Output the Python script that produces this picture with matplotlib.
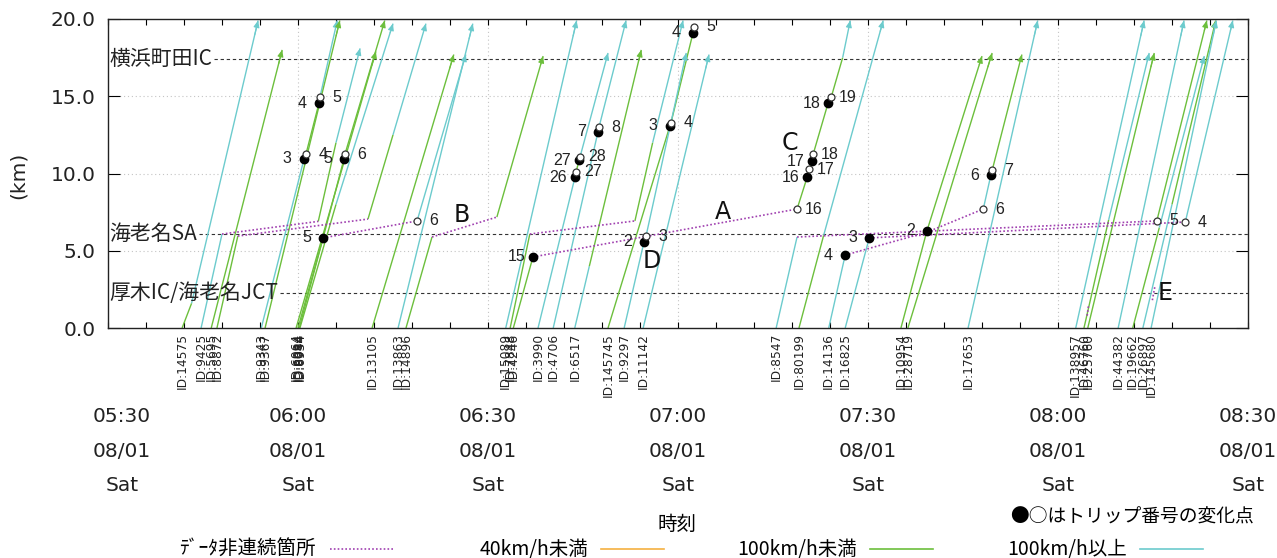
import matplotlib
matplotlib.use('Agg')
import matplotlib.pyplot as plt
from matplotlib import transforms
from matplotlib.lines import Line2D

plt.rcParams['font.family'] = ['DejaVu Sans', 'Noto Sans CJK JP']

# 時刻: 08/01 05:30 からの経過分, 位置: km
piece_id = ['ID:14575', 'ID:9425', '', 'ID:5695', 'ID:8872', '', 'ID:9343', 'ID:9367',
            'ID:6064', 'ID:6884', '', 'ID:8044', 'ID:6934', 'ID:13105', 'ID:13863',
            'ID:14896', '', 'ID:15089', 'ID:7848', '', 'ID:4246', '', 'ID:3990',
            'ID:4706', 'ID:6517', 'ID:145745', 'ID:9297', 'ID:11142', 'ID:8547', '',
            'ID:80199', 'ID:14136', '', 'ID:16825', '', 'ID:10954', 'ID:28719',
            'ID:17653', 'ID:138957', 'ID:46760', 'ID:25760', 'ID:44382', 'ID:19662',
            'ID:26897', 'ID:145680']
piece_t = [[11.7, 13.2, 23.7], [14.7, 18.0], [33.2, 36.0, 39.8], [16.3, 27.5],
           [17.2, 20.5], [41.05, 45.0, 50.2],
           [24.2, 30.95, 31.26, 33.32, 33.47, 36.2], [24.8, 36.6], [29.7, 42.3],
           [30.0, 33.95], [48.8, 56.5], [30.2, 37.26, 37.42, 43.7],
           [30.3, 36.0, 45.0], [41.7, 54.6], [45.8, 57.6], [47.05, 51.16],
           [61.4, 68.7], [62.8, 74.0], [63.5, 66.6], [83.2, 86.0, 90.8], [64.0, 67.1],
           [108.8, 110.4, 110.7, 111.2, 111.35, 113.7, 114.2, 116.0, 117.2],
           [67.9, 73.74, 73.9, 74.4, 74.55, 78.95], [70.3, 77.37, 77.53, 81.8],
           [73.7, 76.0, 84.2], [78.95, 88.74, 88.9, 92.37, 92.53],
           [81.5, 84.63, 84.95, 91.3], [84.5, 94.9], [105.5, 108.8], [165.6, 173.5],
           [109.1, 113.0, 122.4], [113.8, 116.4], [138.2, 139.4, 139.6, 144.3],
           [116.4, 120.2], [170.1, 177.6], [125.2, 129.3, 138.0], [126.3, 139.6],
           [135.8, 146.8], [152.8, 163.6], [154.1, 158.0, 164.4], [154.7, 165.2],
           [159.5, 169.9], [161.8, 166.0, 173.1], [163.4, 168.0, 174.9], [164.7, 175.0]]
piece_km = [[0, 1.6, 19.9], [0, 6.08], [6.9, 12.0, 18.1], [0, 18.0], [0, 5.95],
            [7.05, 12.5, 19.7], [0, 10.94, 11.26, 14.56, 14.95, 19.9], [0, 19.9],
            [0, 17.9], [0, 5.83], [6.93, 17.7], [0, 10.94, 11.26, 19.9],
            [0, 8.0, 19.7], [0, 17.7], [0, 19.7], [0, 5.89], [7.18, 17.6], [0, 19.9],
            [0, 6.08], [6.93, 12.0, 19.9], [0, 4.6],
            [7.7, 9.77, 10.29, 10.8, 11.26, 14.56, 14.95, 17.5, 19.9],
            [0, 9.77, 10.1, 10.87, 11.1, 17.8], [0, 12.7, 13.0, 19.9], [0, 4.0, 18.0],
            [0, 13.1, 13.3, 19.1, 19.5], [0, 5.57, 5.95, 17.8], [0, 17.7], [0, 5.89],
            [6.93, 19.9], [0, 6.0, 19.9], [0, 4.72], [7.7, 9.9, 10.2, 17.7], [0, 5.83],
            [6.86, 19.9], [0, 6.28, 17.6], [0, 17.8], [0, 19.9], [0, 19.9],
            [0, 7.0, 17.8], [0, 17.8], [0, 19.9], [0, 6.5, 17.6], [0, 8.0, 19.9],
            [0, 19.9]]
piece_col = ['gc', 'c', 'gc', 'g', 'g', 'gc', 'ccgcc', 'g', 'g', 'g', 'c', 'ggg', 'gc',
             'g', 'c', 'g', 'g', 'c', 'g', 'gc', 'g', 'gggggggc', 'cgggc', 'cgc', 'cg',
             'gggc', 'ccc', 'c', 'c', 'g', 'gc', 'c', 'cgg', 'c', 'c', 'gg', 'g', 'c',
             'c', 'gc', 'g', 'c', 'gc', 'cg', 'c']
piece_arrow = [1, 0, 1, 1, 0, 1, 1, 1, 1, 0, 1, 1, 1, 1, 1, 0, 1, 1, 0, 1, 0, 1, 1, 1, 1,
               0, 1, 1, 0, 1, 1, 0, 1, 0, 1, 1, 1, 1, 1, 1, 1, 1, 1, 1, 1]

gap_t = [[18.0, 33.2], [20.5, 41.05], [33.95, 48.8], [51.16, 61.4], [66.6, 83.2],
         [67.1, 108.8], [108.8, 165.6], [116.4, 129.3, 138.2], [120.2, 170.1],
         [164.9, 165.3], [154.6, 154.8]]
gap_km = [[6.08, 6.9], [5.95, 7.05], [5.83, 6.93], [5.89, 7.18], [6.08, 6.93],
          [4.6, 7.7], [5.89, 6.93], [4.72, 6.2, 7.7], [5.83, 6.86], [1.8, 2.7],
          [0.8, 1.4]]

filled_t = [30.95, 33.32, 37.26, 33.95, 67.1, 73.74, 74.4, 77.37, 88.74, 92.37, 84.63,
            110.4, 111.2, 113.7, 116.4, 120.2, 129.3, 139.4]
filled_km = [10.94, 14.56, 10.94, 5.83, 4.6, 9.77, 10.87, 12.7, 13.1, 19.1, 5.57,
             9.77, 10.8, 14.56, 4.72, 5.83, 6.28, 9.9]
filled_no = [3, 4, 5, 5, 15, 26, 27, 7, 3, 4, 2, 16, 17, 18, 4, 3, 2, 6]
open_t = [31.26, 33.47, 37.42, 48.8, 73.9, 74.55, 77.53, 88.9, 92.53, 84.95, 108.8,
          110.7, 111.35, 114.2, 138.2, 139.6, 165.6, 170.1]
open_km = [11.26, 14.95, 11.26, 6.93, 10.1, 11.1, 13.0, 13.3, 19.5, 5.95, 7.7,
           10.29, 11.26, 14.95, 7.7, 10.2, 6.93, 6.86]
open_no = [4, 5, 6, 6, 27, 28, 8, 4, 5, 3, 16, 17, 18, 19, 6, 7, 5, 4]

letters = ['A', 'B', 'C', 'D', 'E']
letter_t = [97.1, 55.9, 107.7, 85.9, 166.9]
letter_km = [7.5, 7.3, 12.0, 4.34, 2.27]

station_names = ['横浜町田IC', '海老名SA', '厚木IC/海老名JCT']
station_km = [17.4, 6.08, 2.27]

GREEN = '#6cbf3c'
CYAN = '#6ccbcd'
ORANGE = '#f5b041'
PURPLE = '#a040b0'
COLORS = {'g': GREEN, 'c': CYAN, 'o': ORANGE}
CJK = ['Noto Sans CJK JP', 'DejaVu Sans']

W, H = 1277, 558
fig = plt.figure(figsize=(W / 100, H / 100), dpi=100)
ax = fig.add_axes([108 / W, 1 - 328 / H, 1140 / W, 309 / H])
ax.set_xlim(0, 180)
ax.set_ylim(0, 20)

# グリッド
for t in range(30, 180, 30):
    ax.axvline(t, color='#c4c4c4', lw=0.8, ls=(0, (1, 2.5)), zorder=0)
for k in (5, 10, 15):
    ax.axhline(k, color='#c4c4c4', lw=0.8, ls=(0, (1, 2.5)), zorder=0)

# 地点名と破線
st_texts = []
for name, km in zip(station_names, station_km):
    st_texts.append(ax.text(0.2, km, name, ha='left', va='center', fontsize=15,
                            family=CJK, color='#222222', zorder=6))
fig.canvas.draw()
renderer = fig.canvas.get_renderer()
for txt, km in zip(st_texts, station_km):
    bb = txt.get_window_extent(renderer)
    x0 = ax.transData.inverted().transform((bb.x1 + 2, 0))[0]
    ax.plot([x0, 180], [km, km], color='#333333', lw=0.8, ls=(0, (3, 2.5)), zorder=1)

# 走行軌跡
for pid, t, km, col, arr in zip(piece_id, piece_t, piece_km, piece_col, piece_arrow):
    for i, c in enumerate(col):
        ax.plot(t[i:i + 2], km[i:i + 2], color=COLORS[c], lw=1.0, zorder=2,
                solid_capstyle='butt')
    if arr:
        t0, k0, t1, k1 = t[-2], km[-2], t[-1], km[-1]
        ax.annotate('', xy=(t1, k1), xytext=(t1 - 0.05 * (t1 - t0), k1 - 0.05 * (k1 - k0)),
                    arrowprops=dict(arrowstyle='-|>,head_length=0.5,head_width=0.22',
                                    color=COLORS[col[-1]], lw=0.8, shrinkA=0, shrinkB=0,
                                    mutation_scale=8),
                    annotation_clip=False, zorder=2)
    if pid:
        ax.text(t[0], -0.016, pid, transform=ax.get_xaxis_transform(), rotation=90,
                ha='center', va='top', fontsize=8.8, family='DejaVu Sans',
                color='#222222')

# データ非連続箇所
for t, km in zip(gap_t, gap_km):
    ax.plot(t, km, color=PURPLE, lw=1.2, ls=(0, (1, 1.3)), zorder=3)

# トリップ番号の変化点
ax.plot(filled_t, filled_km, 'o', color='black', ms=6, zorder=5)
ax.plot(open_t, open_km, 'o', mfc='white', mec='#333333', ms=5, mew=0.9, zorder=5)
for t, km, n in zip(filled_t, filled_km, filled_no):
    ax.annotate(str(n), (t, km), xytext=(-12, 0), textcoords='offset points',
                ha='center', va='center', fontsize=11.5, family='Liberation Sans',
                color='#222222')
for t, km, n in zip(open_t, open_km, open_no):
    ax.annotate(str(n), (t, km), xytext=(12, 0), textcoords='offset points',
                ha='center', va='center', fontsize=11.5, family='Liberation Sans',
                color='#222222')

for s, t, km in zip(letters, letter_t, letter_km):
    ax.text(t, km, s, ha='center', va='center', fontsize=17, family='DejaVu Sans',
            color='#111111')

# 軸
ax.set_xticks(range(0, 181, 6))
ax.set_xticklabels([])
ax.tick_params(axis='x', direction='in', length=4.3, width=0.8, top=True)
ax.set_yticks([0, 5, 10, 15, 20])
ax.set_yticklabels(['%.1f' % v for v in [0, 5, 10, 15, 20]])
ax.tick_params(axis='y', direction='in', length=8.6, width=0.8, right=True,
               labelsize=14.5, pad=9, labelcolor='#222222')
for sp in ax.spines.values():
    sp.set_linewidth(1.0)
    sp.set_color('#222222')

xf = ax.get_xaxis_transform()
for t in range(0, 181, 30):
    hh, mm = divmod(330 + t, 60)
    tr = transforms.offset_copy(xf, fig=fig, x=14 if t == 0 else 0, y=0, units='dots')
    ax.text(t, -0.255, '%02d:%02d\n08/01\nSat' % (hh, mm), transform=tr, ha='center',
            va='top', fontsize=14.5, linespacing=2.05, family='DejaVu Sans',
            color='#222222')

fig.text(18 / W, 1 - 175 / H, '(km)', rotation=90, ha='center', va='center',
         fontsize=14.5, family='DejaVu Sans', color='#222222')

# 凡例
fig.text(677 / W, 1 - 524 / H, '時刻', ha='center', va='center', fontsize=14, family=CJK)
fig.text(1254 / W, 1 - 517 / H, '●○はトリップ番号の変化点', ha='right', va='center',
         fontsize=13.5, family=CJK)
leg_y = 1 - 549 / H
leg_items = [('ﾃﾞｰﾀ非連続箇所', 316, 330, PURPLE, (0, (1, 1.3))),
             ('40km/h未満', 588, 601, ORANGE, '-'),
             ('100km/h未満', 857, 870, GREEN, '-'),
             ('100km/h以上', 1127, 1140, CYAN, '-')]
for label, xr, xl, c, ls in leg_items:
    fig.text(xr / W, leg_y, label, ha='right', va='center', fontsize=14, family=CJK)
    fig.add_artist(Line2D([xl / W, (xl + 63) / W], [leg_y, leg_y], transform=fig.transFigure,
                          color=c, lw=1.2, ls=ls))

fig.savefig('out.png', dpi=100)
